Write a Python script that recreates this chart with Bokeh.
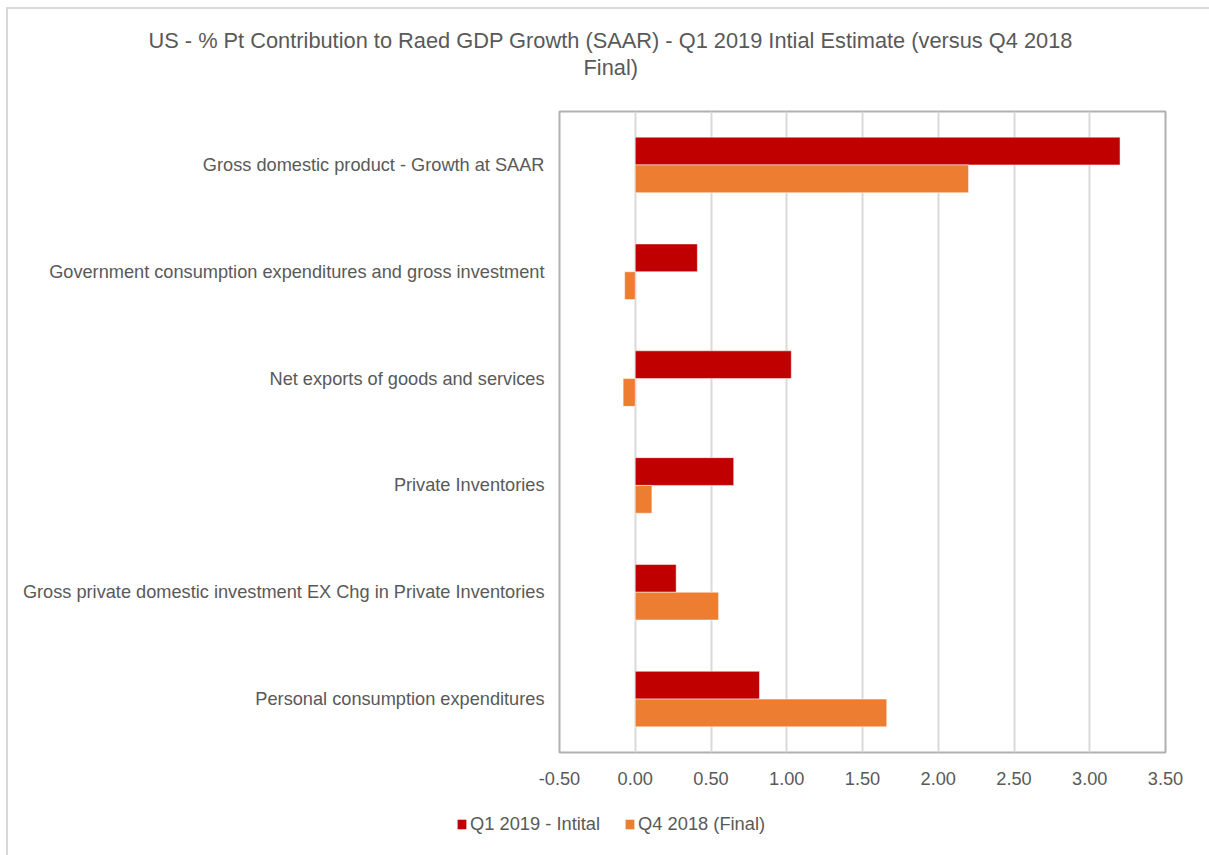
from bokeh.plotting import figure
from bokeh.layouts import column
from bokeh.models import (ColumnDataSource, Range1d, FixedTicker, NumeralTickFormatter,
                          Title, Legend, LegendItem)
from bokeh.transform import dodge
from bokeh.embed import file_html
from bokeh.resources import INLINE

# ---------------- data ----------------
categories = [
    "Personal consumption expenditures",
    "Gross private domestic investment EX Chg in Private Inventories",
    "Private Inventories",
    "Net exports of goods and services",
    "Government consumption expenditures and gross investment",
    "Gross domestic product - Growth at SAAR",
]
q1_2019_initial = [0.82, 0.27, 0.65, 1.03, 0.41, 3.20]
q4_2018_final = [1.66, 0.55, 0.11, -0.08, -0.07, 2.20]
series_names = ["Q1 2019 - Intital", "Q4 2018 (Final)"]
series_colors = ["#c00000", "#ed7d31"]
x_ticks = [-0.5, 0.0, 0.5, 1.0, 1.5, 2.0, 2.5, 3.0, 3.5]
title_lines = ["US - % Pt Contribution to Raed GDP Growth (SAAR) - Q1 2019 Intial Estimate (versus Q4 2018",
               "Final)"]

FONT = "Liberation Sans"
TXT = "#595959"
W = 1201  # canvas content starts at (8, 9) because of the css border


def strip(height):
    f = figure(width=W, height=height, output_backend="svg", toolbar_location=None,
               x_range=Range1d(0, 1), y_range=Range1d(0, 1), x_axis_type=None, y_axis_type=None,
               min_border=0)
    f.outline_line_color = None
    f.grid.visible = False
    f.frame_align = False
    return f


# ---------------- title strip ----------------
top = strip(74)
top.min_border_top = 70
top.add_layout(Title(text=title_lines[1], align="left", offset=575, text_font=FONT,
                     text_font_size="21.8px", text_font_style="normal", text_color=TXT,
                     standoff=0), "above")
top.add_layout(Title(text=title_lines[0], align="left", offset=140, text_font=FONT,
                     text_font_size="21.8px", text_font_style="normal", text_color=TXT,
                     standoff=0), "above")

# ---------------- main chart ----------------
source = ColumnDataSource(dict(cat=categories, q1=q1_2019_initial, q4=q4_2018_final))

p = figure(width=W, height=729, y_range=categories, x_range=Range1d(x_ticks[0], x_ticks[-1]),
           output_backend="svg", toolbar_location=None,
           min_border_left=551, min_border_right=44, min_border_top=28, min_border_bottom=60)
p.frame_align = False

p.hbar(y=dodge("cat", 0.13, range=p.y_range), right="q1", left=0, height=0.26,
       source=source, fill_color=series_colors[0], line_color="#ffffff", line_width=0.5)
p.hbar(y=dodge("cat", -0.13, range=p.y_range), right="q4", left=0, height=0.26,
       source=source, fill_color=series_colors[1], line_color="#ffffff", line_width=0.5)

p.outline_line_color = "#b0b0b0"
p.outline_line_width = 2

p.xgrid.ticker = FixedTicker(ticks=x_ticks)
p.xgrid.grid_line_color = "#d9d9d9"
p.xgrid.grid_line_width = 2
p.ygrid.grid_line_color = None

p.xaxis.ticker = FixedTicker(ticks=x_ticks)
p.xaxis.formatter = NumeralTickFormatter(format="0.00")
for ax in (p.xaxis, p.yaxis):
    ax.axis_line_color = None
    ax.major_tick_line_color = None
    ax.minor_tick_line_color = None
    ax.major_label_text_font = FONT
    ax.major_label_text_font_size = "18.2px"
    ax.major_label_text_color = TXT
p.xaxis.major_label_standoff = 13
p.yaxis.major_label_standoff = 9

# ---------------- legend strip ----------------
leg = strip(43)
nan = float("nan")
d1 = leg.hbar(y=[nan], right=[nan], height=0.1, fill_color=series_colors[0], line_color=None)
d2 = leg.hbar(y=[nan], right=[nan], height=0.1, fill_color=series_colors[1], line_color=None)
legend = Legend(items=[LegendItem(label=series_names[0], renderers=[d1]),
                       LegendItem(label=series_names[1], renderers=[d2])],
                orientation="horizontal", location=(448, 20),
                padding=0, margin=0, spacing=24, glyph_width=11, glyph_height=12,
                label_standoff=3, border_line_color=None, background_fill_alpha=0,
                label_text_font=FONT, label_text_font_size="18.3px", label_text_color=TXT)
leg.add_layout(legend)

layout = column(top, p, leg, spacing=0)
layout.styles = {"margin-left": "6px", "margin-top": "7px",
                 "border-left": "2px solid #d9d9d9", "border-top": "2px solid #d9d9d9"}

open("out.html", "w").write(file_html(layout, INLINE))
